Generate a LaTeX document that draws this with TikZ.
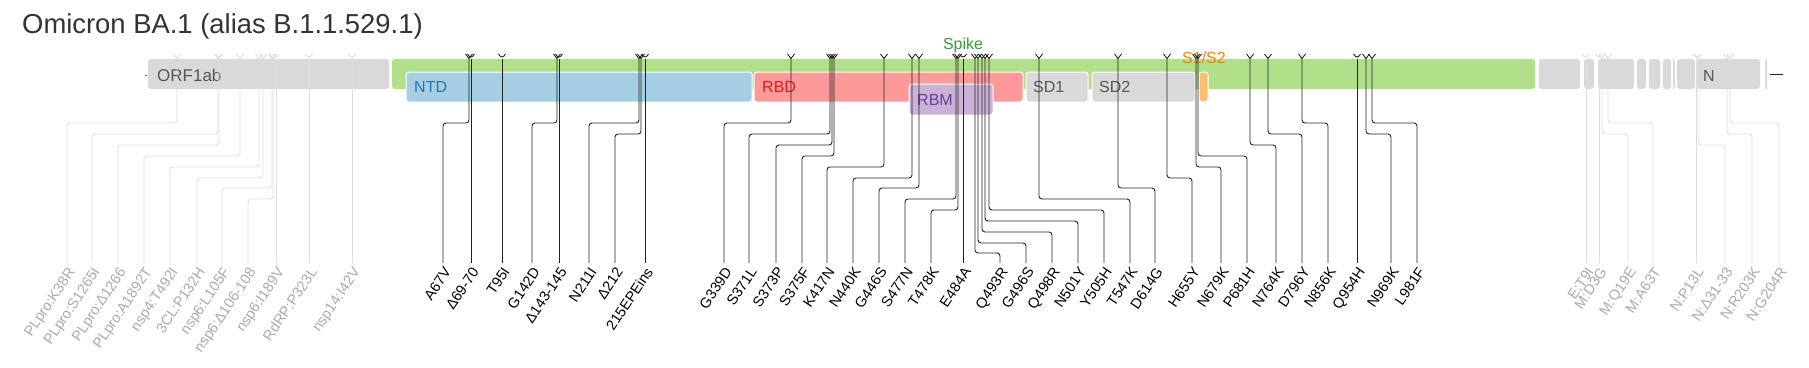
\documentclass[tikz,border=0pt]{standalone}
\usepackage{fontspec}
\setmainfont{Liberation Sans}
\usetikzlibrary{calc}
\definecolor{gbox}{HTML}{D9D9D9}
\definecolor{spk}{HTML}{B2DF8A}
\definecolor{ntdf}{HTML}{A6CEE3}
\definecolor{ntdt}{HTML}{1F78B4}
\definecolor{rbdf}{HTML}{FB9A99}
\definecolor{rbdt}{HTML}{E31A1C}
\definecolor{rbmf}{HTML}{CAB2D6}
\definecolor{rbmt}{HTML}{6A3D9A}
\definecolor{s12f}{HTML}{FDBF6F}
\definecolor{s12t}{HTML}{FF7F00}
\definecolor{spkt}{HTML}{33A02C}
\definecolor{titlec}{HTML}{333333}
\definecolor{boxt}{HTML}{555555}
\definecolor{glin}{HTML}{DEDEDE}
\definecolor{glab}{HTML}{ABABAB}
\definecolor{blin}{HTML}{222222}
\tikzset{
  geneb/.style={fill=gbox, rounded corners=3pt},
  dom/.style={draw=white, line width=1pt, rounded corners=3pt},
  boxlab/.style={font=\fontsize{16}{18}\selectfont, inner sep=0pt, anchor=west},
  mlab/.style={font=\fontsize{14.5}{16}\selectfont, inner sep=0pt, rotate=56, anchor=north east},
  bconn/.style={draw=blin, line width=0.9pt, rounded corners=3pt},
  gconn/.style={draw=glin, line width=0.9pt, rounded corners=3pt},
}
% #1 id, #2 tick x, #3 label x, #4 bend y, #5 text, #6 line style, #7 text colour
\newcommand\mymut[7]{%
  \coordinate (t#1) at (#2,58.5);
  \coordinate (e#1) at (#3,263);
  \node[mlab, text=#7] (l#1) at ($(e#1)+(0,3)$) {#5};
  \draw[#6] (t#1) -- (t#1 |- 0,#4) -- (e#1 |- 0,#4) -- (e#1);
  \draw[#6, rounded corners=0pt] ($(t#1)+(-3.5,-4.5)$) -- (t#1) -- ($(t#1)+(3.5,-4.5)$);
}
% straight: #1 id, #2 x, #3 text, #4 style, #5 colour
\newcommand\mystr[5]{%
  \coordinate (t#1) at (#2,58.5);
  \coordinate (e#1) at (#2,263);
  \node[mlab, text=#5] (l#1) at ($(e#1)+(0,3)$) {#3};
  \draw[#4] (t#1) -- (e#1);
  \draw[#4] ($(t#1)+(-3.5,-4.5)$) -- (t#1) -- ($(t#1)+(3.5,-4.5)$);
}
\begin{document}
\begin{tikzpicture}[x=1pt,y=-1pt]
\useasboundingbox[fill=white] (0,0) rectangle (1809,367);
\node[anchor=west, text=titlec, font=\fontsize{27.4}{31}\selectfont, inner sep=0pt] (title) at (22,26) {Omicron BA.1 (alias B.1.1.529.1)};
% ORF1ab
\path[geneb] (148,59) rectangle (389,89);
\begin{scope}
  \clip (150,60) rectangle (220,88);
  \node[boxlab, font=\fontsize{17}{19}\selectfont, text=boxt] (orf) at (157,75) {ORF1ab};
\end{scope}
\draw[boxt, line width=1pt] (144.5,75) -- (146.5,75);
% spike
\path[fill=spk, rounded corners=3pt] (392,59) rectangle (1535,89);
\path[dom, fill=ntdf] (406,72) rectangle (752,102);
\node[boxlab, text=ntdt] (ntd) at (414,87) {NTD};
\path[dom, fill=rbdf] (754,72) rectangle (1023,102);
\node[boxlab, text=rbdt] (rbd) at (762,87) {RBD};
\path[dom, fill=rbmf] (909,84) rectangle (993,115);
\node[boxlab, text=rbmt] (rbm) at (917,100) {RBM};
\path[dom, fill=gbox] (1026,72) rectangle (1088,102);
\node[boxlab, text=boxt] (sd1) at (1033,87) {SD1};
\path[dom, fill=gbox] (1092,72) rectangle (1195,102);
\node[boxlab, text=boxt] (sd2) at (1099,87) {SD2};
\path[dom, fill=s12f] (1199,72) rectangle (1208,102);
\node[boxlab, anchor=center, text=s12t] (s12) at (1204,58) {S1/S2};
\node[boxlab, anchor=center, text=spkt] (spike) at (963,45) {Spike};
% other genes
\path[geneb] (1539,59) rectangle (1580,89);
\path[geneb] (1584,59) rectangle (1594,89);
\path[geneb] (1598,59) rectangle (1634,89);
\path[geneb] (1637,59) rectangle (1646,89);
\path[geneb] (1649,59) rectangle (1660,89);
\path[geneb] (1663,59) rectangle (1671,89);
\path[geneb] (1673,59) rectangle (1675,89);
\path[geneb] (1677,59) rectangle (1695,89);
\path[geneb] (1697,59) rectangle (1760,89);
\node[boxlab, text=boxt] (ngene) at (1703,76) {N};
\path[geneb] (1765,59) rectangle (1767,89);
\draw[blin, line width=1pt] (1770,74) -- (1783,74);
% ORF1ab mutations
\foreach \id/\tx/\lx/\by/\txt in {
  o1/177/67/123/PLpro:K38R, o2/218/92/134/PLpro:S1265I, o3/219/118/145/PLpro:Δ1266,
  o4/240/144/156/PLpro:A1892T, o5/259/170/167/nsp4:T492I, o6/263/197/178/3CL:P132H,
  o7/272/222/188/nsp6:L105F, o8/273/248/199/nsp6:Δ106-108}
  {\mymut{\id}{\tx}{\lx}{\by}{\txt}{gconn}{glab}}
\foreach \id/\x/\txt in {o9/276/nsp6:I189V, o10/309/RdRP:P323L, o11/352/nsp14:I42V}
  {\mystr{\id}{\x}{\txt}{gconn}{glab}}
% right-hand gray mutations
\foreach \id/\tx/\lx/\by/\txt in {
  r3/1602/1628/134/M:Q19E, r4/1608/1653/123/M:A63T,
  r6/1698/1725/145/N:Δ31-33, r7/1727/1752/134/N:R203K, r8/1730/1779/123/N:G204R}
  {\mymut{\id}{\tx}{\lx}{\by}{\txt}{gconn}{glab}}
\foreach \id/\x/\txt in {r1/1586/E:T9I, r2/1599/M:D3G, r5/1696/N:P13L}
  {\mystr{\id}{\x}{\txt}{gconn}{glab}}
% spike mutations
\foreach \id/\tx/\lx/\by/\txt in {
  s1/469/443/123/A67V, s4/557/532/123/G142D, s6/639/589/123/N211I, s7/641/615/134/Δ212,
  s9/791/724/123/G339D, s10/830/749/134/S371L, s11/832/776/145/S373P, s12/834/802/156/S375F,
  s13/884/827/167/K417N, s14/912/853/178/N440K, s15/919/879/188/G446S, s16/956/905/199/S477N,
  s17/958/931/210/T478K, s19/975/1000/253/Q493R, s20/978/1026/243/G496S, s21/982/1052/232/Q498R,
  s22/985/1078/221/N501Y, s23/989/1104/210/Y505H, s24/1039/1130/199/T547K, s25/1118/1155/188/D614G,
  s26/1167/1192/178/H655Y, s27/1196/1221/167/N679K, s28/1198/1247/156/P681H, s29/1250/1276/145/N764K,
  s30/1268/1302/134/D796Y, s31/1302/1328/123/N856K, s33/1366/1391/134/N969K, s34/1372/1417/123/L981F}
  {\mymut{\id}{\tx}{\lx}{\by}{\txt}{bconn}{black}}
\foreach \id/\x/\txt in {s2/471/Δ69-70, s3/502/T95I, s5/559/Δ143-145, s8/645/215EPEins,
  s18/963/E484A, s32/1357/Q954H}
  {\mystr{\id}{\x}{\txt}{bconn}{black}}
\end{tikzpicture}
\end{document}
